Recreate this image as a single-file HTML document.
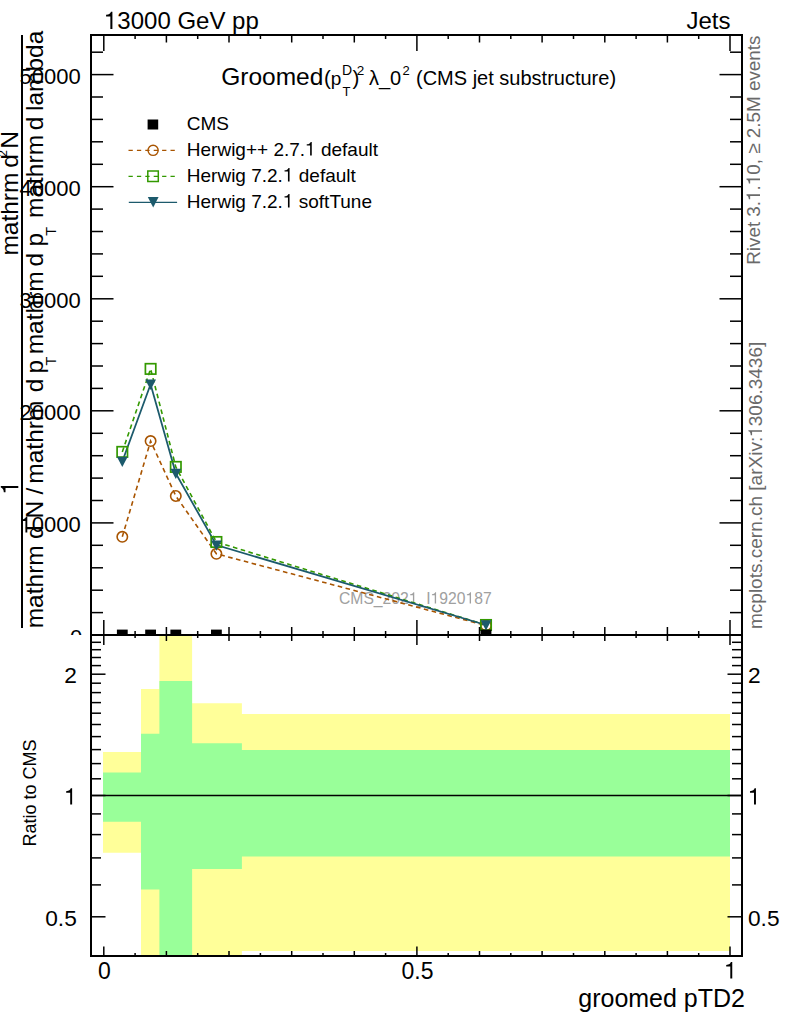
<!DOCTYPE html><html><head><meta charset="utf-8"><style>html,body{margin:0;padding:0;background:#fff;}svg{display:block;}text{font-family:"Liberation Sans",sans-serif;}.one{fill:none;}</style></head><body>
<svg width="786" height="1024" viewBox="0 0 786 1024">
<rect width="786" height="1024" fill="#fff"/>
<path d="M103.0,752.1 L141.0,752.1 L141.0,688.9 L159.4,688.9 L159.4,635.0 L192.1,635.0 L192.1,703.2 L241.9,703.2 L241.9,713.9 L730.0,713.9 L730.0,950.9 L241.9,950.9 L241.9,956.0 L192.1,956.0 L192.1,956.0 L159.4,956.0 L159.4,956.0 L141.0,956.0 L141.0,852.8 L103.0,852.8 Z" fill="#ffff99"/>
<path d="M103.0,772.6 L141.0,772.6 L141.0,733.7 L159.4,733.7 L159.4,680.9 L192.1,680.9 L192.1,743.3 L241.9,743.3 L241.9,750.0 L730.0,750.0 L730.0,856.6 L241.9,856.6 L241.9,869.0 L192.1,869.0 L192.1,956.0 L159.4,956.0 L159.4,889.6 L141.0,889.6 L141.0,821.7 L103.0,821.7 Z" fill="#99ff99"/>
<line x1="91" y1="795.5" x2="742" y2="795.5" stroke="#000" stroke-width="1.3"/>
<text x="339" y="603.5" font-size="15.7" fill="#a0a0a0">CMS_202<tspan class="one">1</tspan>_I<tspan class="one">1</tspan>920<tspan class="one">1</tspan>87</text>
<path d="M350,0 L350,715 L290,715 C275,650 220,595 87,591 L87,522 L265,522 L265,0 Z" fill="#a0a0a0" transform="matrix(0.01570,0.00000,0.00000,-0.01570,408.77,603.50)"/>
<path d="M350,0 L350,715 L290,715 C275,650 220,595 87,591 L87,522 L265,522 L265,0 Z" fill="#a0a0a0" transform="matrix(0.01570,0.00000,0.00000,-0.01570,430.59,603.50)"/>
<path d="M350,0 L350,715 L290,715 C275,650 220,595 87,591 L87,522 L265,522 L265,0 Z" fill="#a0a0a0" transform="matrix(0.01570,0.00000,0.00000,-0.01570,465.52,603.50)"/>
<polyline points="122.3,536.8 150.6,441.1 175.8,496.0 216.4,553.8 486.0,625.5" fill="none" stroke="#a85400" stroke-width="1.6" stroke-dasharray="4.6 3.5"/>
<polyline points="122.3,451.9 150.6,368.9 175.8,466.9 216.4,542.0 486.0,625.0" fill="none" stroke="#339900" stroke-width="1.6" stroke-dasharray="4.6 3.5"/>
<polyline points="122.3,461.5 150.6,384.3 175.8,473.5 216.4,545.1 486.0,625.0" fill="none" stroke="#1c5a6c" stroke-width="1.8"/>
<circle cx="122.3" cy="536.8" r="5.2" fill="none" stroke="#a85400" stroke-width="1.6"/>
<circle cx="150.6" cy="441.1" r="5.2" fill="none" stroke="#a85400" stroke-width="1.6"/>
<circle cx="175.8" cy="496.0" r="5.2" fill="none" stroke="#a85400" stroke-width="1.6"/>
<circle cx="216.4" cy="553.8" r="5.2" fill="none" stroke="#a85400" stroke-width="1.6"/>
<circle cx="486.0" cy="625.5" r="5.2" fill="none" stroke="#a85400" stroke-width="1.6"/>
<rect x="117.1" y="446.7" width="10.4" height="10.4" fill="none" stroke="#339900" stroke-width="1.7"/>
<rect x="145.4" y="363.7" width="10.4" height="10.4" fill="none" stroke="#339900" stroke-width="1.7"/>
<rect x="170.6" y="461.7" width="10.4" height="10.4" fill="none" stroke="#339900" stroke-width="1.7"/>
<rect x="211.2" y="536.8" width="10.4" height="10.4" fill="none" stroke="#339900" stroke-width="1.7"/>
<rect x="480.8" y="619.8" width="10.4" height="10.4" fill="none" stroke="#339900" stroke-width="1.7"/>
<polygon points="116.9,456.8 127.7,456.8 122.3,467.1" fill="#1c5a6c"/>
<polygon points="145.2,379.6 156.0,379.6 150.6,389.9" fill="#1c5a6c"/>
<polygon points="170.4,468.8 181.2,468.8 175.8,479.1" fill="#1c5a6c"/>
<polygon points="211.0,540.4 221.8,540.4 216.4,550.7" fill="#1c5a6c"/>
<polygon points="480.6,620.3 491.4,620.3 486.0,630.6" fill="#1c5a6c"/>
<clipPath id="cm"><rect x="91" y="35" width="651" height="600.0"/></clipPath>
<g clip-path="url(#cm)">
<rect x="116.9" y="629.6" width="10.8" height="10.8" fill="#000"/>
<rect x="145.2" y="629.6" width="10.8" height="10.8" fill="#000"/>
<rect x="170.4" y="629.6" width="10.8" height="10.8" fill="#000"/>
<rect x="211.0" y="629.6" width="10.8" height="10.8" fill="#000"/>
<rect x="480.6" y="629.6" width="10.8" height="10.8" fill="#000"/>
</g>
<rect x="91" y="35" width="651" height="600.0" fill="none" stroke="#000" stroke-width="2"/>
<rect x="91" y="635.0" width="651" height="321.0" fill="none" stroke="#000" stroke-width="2"/>
<line x1="91.0" y1="635.0" x2="113.5" y2="635.0" stroke="#000" stroke-width="1.5"/><line x1="742.0" y1="635.0" x2="719.5" y2="635.0" stroke="#000" stroke-width="1.5"/><line x1="91.0" y1="612.6" x2="103.0" y2="612.6" stroke="#000" stroke-width="1.5"/><line x1="742.0" y1="612.6" x2="730.0" y2="612.6" stroke="#000" stroke-width="1.5"/><line x1="91.0" y1="590.2" x2="103.0" y2="590.2" stroke="#000" stroke-width="1.5"/><line x1="742.0" y1="590.2" x2="730.0" y2="590.2" stroke="#000" stroke-width="1.5"/><line x1="91.0" y1="567.8" x2="103.0" y2="567.8" stroke="#000" stroke-width="1.5"/><line x1="742.0" y1="567.8" x2="730.0" y2="567.8" stroke="#000" stroke-width="1.5"/><line x1="91.0" y1="545.3" x2="103.0" y2="545.3" stroke="#000" stroke-width="1.5"/><line x1="742.0" y1="545.3" x2="730.0" y2="545.3" stroke="#000" stroke-width="1.5"/><line x1="91.0" y1="522.9" x2="113.5" y2="522.9" stroke="#000" stroke-width="1.5"/><line x1="742.0" y1="522.9" x2="719.5" y2="522.9" stroke="#000" stroke-width="1.5"/><line x1="91.0" y1="500.5" x2="103.0" y2="500.5" stroke="#000" stroke-width="1.5"/><line x1="742.0" y1="500.5" x2="730.0" y2="500.5" stroke="#000" stroke-width="1.5"/><line x1="91.0" y1="478.1" x2="103.0" y2="478.1" stroke="#000" stroke-width="1.5"/><line x1="742.0" y1="478.1" x2="730.0" y2="478.1" stroke="#000" stroke-width="1.5"/><line x1="91.0" y1="455.7" x2="103.0" y2="455.7" stroke="#000" stroke-width="1.5"/><line x1="742.0" y1="455.7" x2="730.0" y2="455.7" stroke="#000" stroke-width="1.5"/><line x1="91.0" y1="433.3" x2="103.0" y2="433.3" stroke="#000" stroke-width="1.5"/><line x1="742.0" y1="433.3" x2="730.0" y2="433.3" stroke="#000" stroke-width="1.5"/><line x1="91.0" y1="410.8" x2="113.5" y2="410.8" stroke="#000" stroke-width="1.5"/><line x1="742.0" y1="410.8" x2="719.5" y2="410.8" stroke="#000" stroke-width="1.5"/><line x1="91.0" y1="388.4" x2="103.0" y2="388.4" stroke="#000" stroke-width="1.5"/><line x1="742.0" y1="388.4" x2="730.0" y2="388.4" stroke="#000" stroke-width="1.5"/><line x1="91.0" y1="366.0" x2="103.0" y2="366.0" stroke="#000" stroke-width="1.5"/><line x1="742.0" y1="366.0" x2="730.0" y2="366.0" stroke="#000" stroke-width="1.5"/><line x1="91.0" y1="343.6" x2="103.0" y2="343.6" stroke="#000" stroke-width="1.5"/><line x1="742.0" y1="343.6" x2="730.0" y2="343.6" stroke="#000" stroke-width="1.5"/><line x1="91.0" y1="321.2" x2="103.0" y2="321.2" stroke="#000" stroke-width="1.5"/><line x1="742.0" y1="321.2" x2="730.0" y2="321.2" stroke="#000" stroke-width="1.5"/><line x1="91.0" y1="298.8" x2="113.5" y2="298.8" stroke="#000" stroke-width="1.5"/><line x1="742.0" y1="298.8" x2="719.5" y2="298.8" stroke="#000" stroke-width="1.5"/><line x1="91.0" y1="276.3" x2="103.0" y2="276.3" stroke="#000" stroke-width="1.5"/><line x1="742.0" y1="276.3" x2="730.0" y2="276.3" stroke="#000" stroke-width="1.5"/><line x1="91.0" y1="253.9" x2="103.0" y2="253.9" stroke="#000" stroke-width="1.5"/><line x1="742.0" y1="253.9" x2="730.0" y2="253.9" stroke="#000" stroke-width="1.5"/><line x1="91.0" y1="231.5" x2="103.0" y2="231.5" stroke="#000" stroke-width="1.5"/><line x1="742.0" y1="231.5" x2="730.0" y2="231.5" stroke="#000" stroke-width="1.5"/><line x1="91.0" y1="209.1" x2="103.0" y2="209.1" stroke="#000" stroke-width="1.5"/><line x1="742.0" y1="209.1" x2="730.0" y2="209.1" stroke="#000" stroke-width="1.5"/><line x1="91.0" y1="186.7" x2="113.5" y2="186.7" stroke="#000" stroke-width="1.5"/><line x1="742.0" y1="186.7" x2="719.5" y2="186.7" stroke="#000" stroke-width="1.5"/><line x1="91.0" y1="164.3" x2="103.0" y2="164.3" stroke="#000" stroke-width="1.5"/><line x1="742.0" y1="164.3" x2="730.0" y2="164.3" stroke="#000" stroke-width="1.5"/><line x1="91.0" y1="141.8" x2="103.0" y2="141.8" stroke="#000" stroke-width="1.5"/><line x1="742.0" y1="141.8" x2="730.0" y2="141.8" stroke="#000" stroke-width="1.5"/><line x1="91.0" y1="119.4" x2="103.0" y2="119.4" stroke="#000" stroke-width="1.5"/><line x1="742.0" y1="119.4" x2="730.0" y2="119.4" stroke="#000" stroke-width="1.5"/><line x1="91.0" y1="97.0" x2="103.0" y2="97.0" stroke="#000" stroke-width="1.5"/><line x1="742.0" y1="97.0" x2="730.0" y2="97.0" stroke="#000" stroke-width="1.5"/><line x1="91.0" y1="74.6" x2="113.5" y2="74.6" stroke="#000" stroke-width="1.5"/><line x1="742.0" y1="74.6" x2="719.5" y2="74.6" stroke="#000" stroke-width="1.5"/><line x1="91.0" y1="52.2" x2="103.0" y2="52.2" stroke="#000" stroke-width="1.5"/><line x1="742.0" y1="52.2" x2="730.0" y2="52.2" stroke="#000" stroke-width="1.5"/><line x1="103.8" y1="35.0" x2="103.8" y2="51.0" stroke="#000" stroke-width="1.5"/><line x1="103.8" y1="635.0" x2="103.8" y2="620.0" stroke="#000" stroke-width="1.5"/><line x1="103.8" y1="635.0" x2="103.8" y2="645.0" stroke="#000" stroke-width="1.5"/><line x1="103.8" y1="956.0" x2="103.8" y2="946.5" stroke="#000" stroke-width="1.5"/><line x1="135.1" y1="35.0" x2="135.1" y2="39.0" stroke="#000" stroke-width="1.5"/><line x1="135.1" y1="635.0" x2="135.1" y2="631.0" stroke="#000" stroke-width="1.5"/><line x1="135.1" y1="635.0" x2="135.1" y2="638.0" stroke="#000" stroke-width="1.5"/><line x1="135.1" y1="956.0" x2="135.1" y2="953.0" stroke="#000" stroke-width="1.5"/><line x1="166.4" y1="35.0" x2="166.4" y2="42.5" stroke="#000" stroke-width="1.5"/><line x1="166.4" y1="635.0" x2="166.4" y2="627.0" stroke="#000" stroke-width="1.5"/><line x1="166.4" y1="635.0" x2="166.4" y2="641.0" stroke="#000" stroke-width="1.5"/><line x1="166.4" y1="956.0" x2="166.4" y2="951.0" stroke="#000" stroke-width="1.5"/><line x1="197.7" y1="35.0" x2="197.7" y2="39.0" stroke="#000" stroke-width="1.5"/><line x1="197.7" y1="635.0" x2="197.7" y2="631.0" stroke="#000" stroke-width="1.5"/><line x1="197.7" y1="635.0" x2="197.7" y2="638.0" stroke="#000" stroke-width="1.5"/><line x1="197.7" y1="956.0" x2="197.7" y2="953.0" stroke="#000" stroke-width="1.5"/><line x1="229.0" y1="35.0" x2="229.0" y2="42.5" stroke="#000" stroke-width="1.5"/><line x1="229.0" y1="635.0" x2="229.0" y2="627.0" stroke="#000" stroke-width="1.5"/><line x1="229.0" y1="635.0" x2="229.0" y2="641.0" stroke="#000" stroke-width="1.5"/><line x1="229.0" y1="956.0" x2="229.0" y2="951.0" stroke="#000" stroke-width="1.5"/><line x1="260.4" y1="35.0" x2="260.4" y2="39.0" stroke="#000" stroke-width="1.5"/><line x1="260.4" y1="635.0" x2="260.4" y2="631.0" stroke="#000" stroke-width="1.5"/><line x1="260.4" y1="635.0" x2="260.4" y2="638.0" stroke="#000" stroke-width="1.5"/><line x1="260.4" y1="956.0" x2="260.4" y2="953.0" stroke="#000" stroke-width="1.5"/><line x1="291.7" y1="35.0" x2="291.7" y2="42.5" stroke="#000" stroke-width="1.5"/><line x1="291.7" y1="635.0" x2="291.7" y2="627.0" stroke="#000" stroke-width="1.5"/><line x1="291.7" y1="635.0" x2="291.7" y2="641.0" stroke="#000" stroke-width="1.5"/><line x1="291.7" y1="956.0" x2="291.7" y2="951.0" stroke="#000" stroke-width="1.5"/><line x1="323.0" y1="35.0" x2="323.0" y2="39.0" stroke="#000" stroke-width="1.5"/><line x1="323.0" y1="635.0" x2="323.0" y2="631.0" stroke="#000" stroke-width="1.5"/><line x1="323.0" y1="635.0" x2="323.0" y2="638.0" stroke="#000" stroke-width="1.5"/><line x1="323.0" y1="956.0" x2="323.0" y2="953.0" stroke="#000" stroke-width="1.5"/><line x1="354.3" y1="35.0" x2="354.3" y2="42.5" stroke="#000" stroke-width="1.5"/><line x1="354.3" y1="635.0" x2="354.3" y2="627.0" stroke="#000" stroke-width="1.5"/><line x1="354.3" y1="635.0" x2="354.3" y2="641.0" stroke="#000" stroke-width="1.5"/><line x1="354.3" y1="956.0" x2="354.3" y2="951.0" stroke="#000" stroke-width="1.5"/><line x1="385.6" y1="35.0" x2="385.6" y2="39.0" stroke="#000" stroke-width="1.5"/><line x1="385.6" y1="635.0" x2="385.6" y2="631.0" stroke="#000" stroke-width="1.5"/><line x1="385.6" y1="635.0" x2="385.6" y2="638.0" stroke="#000" stroke-width="1.5"/><line x1="385.6" y1="956.0" x2="385.6" y2="953.0" stroke="#000" stroke-width="1.5"/><line x1="416.9" y1="35.0" x2="416.9" y2="51.0" stroke="#000" stroke-width="1.5"/><line x1="416.9" y1="635.0" x2="416.9" y2="620.0" stroke="#000" stroke-width="1.5"/><line x1="416.9" y1="635.0" x2="416.9" y2="645.0" stroke="#000" stroke-width="1.5"/><line x1="416.9" y1="956.0" x2="416.9" y2="946.5" stroke="#000" stroke-width="1.5"/><line x1="448.2" y1="35.0" x2="448.2" y2="39.0" stroke="#000" stroke-width="1.5"/><line x1="448.2" y1="635.0" x2="448.2" y2="631.0" stroke="#000" stroke-width="1.5"/><line x1="448.2" y1="635.0" x2="448.2" y2="638.0" stroke="#000" stroke-width="1.5"/><line x1="448.2" y1="956.0" x2="448.2" y2="953.0" stroke="#000" stroke-width="1.5"/><line x1="479.5" y1="35.0" x2="479.5" y2="42.5" stroke="#000" stroke-width="1.5"/><line x1="479.5" y1="635.0" x2="479.5" y2="627.0" stroke="#000" stroke-width="1.5"/><line x1="479.5" y1="635.0" x2="479.5" y2="641.0" stroke="#000" stroke-width="1.5"/><line x1="479.5" y1="956.0" x2="479.5" y2="951.0" stroke="#000" stroke-width="1.5"/><line x1="510.8" y1="35.0" x2="510.8" y2="39.0" stroke="#000" stroke-width="1.5"/><line x1="510.8" y1="635.0" x2="510.8" y2="631.0" stroke="#000" stroke-width="1.5"/><line x1="510.8" y1="635.0" x2="510.8" y2="638.0" stroke="#000" stroke-width="1.5"/><line x1="510.8" y1="956.0" x2="510.8" y2="953.0" stroke="#000" stroke-width="1.5"/><line x1="542.1" y1="35.0" x2="542.1" y2="42.5" stroke="#000" stroke-width="1.5"/><line x1="542.1" y1="635.0" x2="542.1" y2="627.0" stroke="#000" stroke-width="1.5"/><line x1="542.1" y1="635.0" x2="542.1" y2="641.0" stroke="#000" stroke-width="1.5"/><line x1="542.1" y1="956.0" x2="542.1" y2="951.0" stroke="#000" stroke-width="1.5"/><line x1="573.5" y1="35.0" x2="573.5" y2="39.0" stroke="#000" stroke-width="1.5"/><line x1="573.5" y1="635.0" x2="573.5" y2="631.0" stroke="#000" stroke-width="1.5"/><line x1="573.5" y1="635.0" x2="573.5" y2="638.0" stroke="#000" stroke-width="1.5"/><line x1="573.5" y1="956.0" x2="573.5" y2="953.0" stroke="#000" stroke-width="1.5"/><line x1="604.8" y1="35.0" x2="604.8" y2="42.5" stroke="#000" stroke-width="1.5"/><line x1="604.8" y1="635.0" x2="604.8" y2="627.0" stroke="#000" stroke-width="1.5"/><line x1="604.8" y1="635.0" x2="604.8" y2="641.0" stroke="#000" stroke-width="1.5"/><line x1="604.8" y1="956.0" x2="604.8" y2="951.0" stroke="#000" stroke-width="1.5"/><line x1="636.1" y1="35.0" x2="636.1" y2="39.0" stroke="#000" stroke-width="1.5"/><line x1="636.1" y1="635.0" x2="636.1" y2="631.0" stroke="#000" stroke-width="1.5"/><line x1="636.1" y1="635.0" x2="636.1" y2="638.0" stroke="#000" stroke-width="1.5"/><line x1="636.1" y1="956.0" x2="636.1" y2="953.0" stroke="#000" stroke-width="1.5"/><line x1="667.4" y1="35.0" x2="667.4" y2="42.5" stroke="#000" stroke-width="1.5"/><line x1="667.4" y1="635.0" x2="667.4" y2="627.0" stroke="#000" stroke-width="1.5"/><line x1="667.4" y1="635.0" x2="667.4" y2="641.0" stroke="#000" stroke-width="1.5"/><line x1="667.4" y1="956.0" x2="667.4" y2="951.0" stroke="#000" stroke-width="1.5"/><line x1="698.7" y1="35.0" x2="698.7" y2="39.0" stroke="#000" stroke-width="1.5"/><line x1="698.7" y1="635.0" x2="698.7" y2="631.0" stroke="#000" stroke-width="1.5"/><line x1="698.7" y1="635.0" x2="698.7" y2="638.0" stroke="#000" stroke-width="1.5"/><line x1="698.7" y1="956.0" x2="698.7" y2="953.0" stroke="#000" stroke-width="1.5"/><line x1="730.0" y1="35.0" x2="730.0" y2="51.0" stroke="#000" stroke-width="1.5"/><line x1="730.0" y1="635.0" x2="730.0" y2="620.0" stroke="#000" stroke-width="1.5"/><line x1="730.0" y1="635.0" x2="730.0" y2="645.0" stroke="#000" stroke-width="1.5"/><line x1="730.0" y1="956.0" x2="730.0" y2="946.5" stroke="#000" stroke-width="1.5"/><line x1="91.0" y1="955.9" x2="101.0" y2="955.9" stroke="#000" stroke-width="1.5"/><line x1="742.0" y1="955.9" x2="732.0" y2="955.9" stroke="#000" stroke-width="1.5"/><line x1="91.0" y1="916.8" x2="105.5" y2="916.8" stroke="#000" stroke-width="1.5"/><line x1="742.0" y1="916.8" x2="727.5" y2="916.8" stroke="#000" stroke-width="1.5"/><line x1="91.0" y1="884.9" x2="101.0" y2="884.9" stroke="#000" stroke-width="1.5"/><line x1="742.0" y1="884.9" x2="732.0" y2="884.9" stroke="#000" stroke-width="1.5"/><line x1="91.0" y1="857.9" x2="101.0" y2="857.9" stroke="#000" stroke-width="1.5"/><line x1="742.0" y1="857.9" x2="732.0" y2="857.9" stroke="#000" stroke-width="1.5"/><line x1="91.0" y1="834.6" x2="101.0" y2="834.6" stroke="#000" stroke-width="1.5"/><line x1="742.0" y1="834.6" x2="732.0" y2="834.6" stroke="#000" stroke-width="1.5"/><line x1="91.0" y1="813.9" x2="101.0" y2="813.9" stroke="#000" stroke-width="1.5"/><line x1="742.0" y1="813.9" x2="732.0" y2="813.9" stroke="#000" stroke-width="1.5"/><line x1="91.0" y1="795.5" x2="105.5" y2="795.5" stroke="#000" stroke-width="1.5"/><line x1="742.0" y1="795.5" x2="727.5" y2="795.5" stroke="#000" stroke-width="1.5"/><line x1="91.0" y1="778.8" x2="101.0" y2="778.8" stroke="#000" stroke-width="1.5"/><line x1="742.0" y1="778.8" x2="732.0" y2="778.8" stroke="#000" stroke-width="1.5"/><line x1="91.0" y1="763.6" x2="101.0" y2="763.6" stroke="#000" stroke-width="1.5"/><line x1="742.0" y1="763.6" x2="732.0" y2="763.6" stroke="#000" stroke-width="1.5"/><line x1="91.0" y1="749.6" x2="101.0" y2="749.6" stroke="#000" stroke-width="1.5"/><line x1="742.0" y1="749.6" x2="732.0" y2="749.6" stroke="#000" stroke-width="1.5"/><line x1="91.0" y1="736.6" x2="101.0" y2="736.6" stroke="#000" stroke-width="1.5"/><line x1="742.0" y1="736.6" x2="732.0" y2="736.6" stroke="#000" stroke-width="1.5"/><line x1="91.0" y1="724.5" x2="101.0" y2="724.5" stroke="#000" stroke-width="1.5"/><line x1="742.0" y1="724.5" x2="732.0" y2="724.5" stroke="#000" stroke-width="1.5"/><line x1="91.0" y1="713.2" x2="101.0" y2="713.2" stroke="#000" stroke-width="1.5"/><line x1="742.0" y1="713.2" x2="732.0" y2="713.2" stroke="#000" stroke-width="1.5"/><line x1="91.0" y1="702.6" x2="101.0" y2="702.6" stroke="#000" stroke-width="1.5"/><line x1="742.0" y1="702.6" x2="732.0" y2="702.6" stroke="#000" stroke-width="1.5"/><line x1="91.0" y1="692.6" x2="101.0" y2="692.6" stroke="#000" stroke-width="1.5"/><line x1="742.0" y1="692.6" x2="732.0" y2="692.6" stroke="#000" stroke-width="1.5"/><line x1="91.0" y1="683.2" x2="101.0" y2="683.2" stroke="#000" stroke-width="1.5"/><line x1="742.0" y1="683.2" x2="732.0" y2="683.2" stroke="#000" stroke-width="1.5"/><line x1="91.0" y1="674.2" x2="105.5" y2="674.2" stroke="#000" stroke-width="1.5"/><line x1="742.0" y1="674.2" x2="727.5" y2="674.2" stroke="#000" stroke-width="1.5"/><line x1="91.0" y1="665.6" x2="101.0" y2="665.6" stroke="#000" stroke-width="1.5"/><line x1="742.0" y1="665.6" x2="732.0" y2="665.6" stroke="#000" stroke-width="1.5"/><line x1="91.0" y1="657.5" x2="101.0" y2="657.5" stroke="#000" stroke-width="1.5"/><line x1="742.0" y1="657.5" x2="732.0" y2="657.5" stroke="#000" stroke-width="1.5"/><line x1="91.0" y1="649.7" x2="101.0" y2="649.7" stroke="#000" stroke-width="1.5"/><line x1="742.0" y1="649.7" x2="732.0" y2="649.7" stroke="#000" stroke-width="1.5"/><line x1="91.0" y1="642.3" x2="101.0" y2="642.3" stroke="#000" stroke-width="1.5"/><line x1="742.0" y1="642.3" x2="732.0" y2="642.3" stroke="#000" stroke-width="1.5"/><line x1="91.0" y1="635.1" x2="101.0" y2="635.1" stroke="#000" stroke-width="1.5"/><line x1="742.0" y1="635.1" x2="732.0" y2="635.1" stroke="#000" stroke-width="1.5"/>
<clipPath id="lab"><rect x="0" y="0" width="786" height="635.0"/></clipPath>
<g clip-path="url(#lab)">
<text x="82.3" y="644.5" font-size="22" text-anchor="end" fill="#000" >0</text>
<text x="80.8" y="532.4" font-size="22" text-anchor="end" fill="#000" ><tspan class="one">1</tspan>0000</text>
<path d="M350,0 L350,715 L290,715 C275,650 220,595 87,591 L87,522 L265,522 L265,0 Z" fill="#000" transform="matrix(0.02200,0.00000,0.00000,-0.02200,19.60,532.40)"/>
<text x="80.8" y="420.3" font-size="22" text-anchor="end" fill="#000" >20000</text>
<text x="80.8" y="308.3" font-size="22" text-anchor="end" fill="#000" >30000</text>
<text x="80.8" y="196.2" font-size="22" text-anchor="end" fill="#000" >40000</text>
<text x="80.8" y="84.1" font-size="22" text-anchor="end" fill="#000" >50000</text>
</g>
<text x="76.8" y="683.3" font-size="22.7" text-anchor="end" fill="#000" >2</text>
<text x="748" y="683.3" font-size="22.7" text-anchor="start" fill="#000" >2</text>
<text x="76.8" y="804.6" font-size="22.7" text-anchor="end" fill="#000" ><tspan class="one">1</tspan></text>
<path d="M350,0 L350,715 L290,715 C275,650 220,595 87,591 L87,522 L265,522 L265,0 Z" fill="#000" transform="matrix(0.02270,0.00000,0.00000,-0.02270,64.18,804.60)"/>
<text x="748" y="804.6" font-size="22.7" text-anchor="start" fill="#000" ><tspan class="one">1</tspan></text>
<path d="M350,0 L350,715 L290,715 C275,650 220,595 87,591 L87,522 L265,522 L265,0 Z" fill="#000" transform="matrix(0.02270,0.00000,0.00000,-0.02270,748.00,804.60)"/>
<text x="76.8" y="925.9" font-size="22.7" text-anchor="end" fill="#000" >0.5</text>
<text x="748" y="925.9" font-size="22.7" text-anchor="start" fill="#000" >0.5</text>
<text x="104.4" y="978.5" font-size="23" text-anchor="middle" fill="#000" >0</text>
<text x="417.5" y="978.5" font-size="23" text-anchor="middle" fill="#000" >0.5</text>
<text x="730.6" y="978.5" font-size="23" text-anchor="middle" fill="#000" ><tspan class="one">1</tspan></text>
<path d="M350,0 L350,715 L290,715 C275,650 220,595 87,591 L87,522 L265,522 L265,0 Z" fill="#000" transform="matrix(0.02300,0.00000,0.00000,-0.02300,724.20,978.50)"/>
<text x="104" y="29" font-size="24" text-anchor="start" fill="#000" ><tspan class="one">1</tspan>3000 GeV pp</text>
<path d="M350,0 L350,715 L290,715 C275,650 220,595 87,591 L87,522 L265,522 L265,0 Z" fill="#000" transform="matrix(0.02400,0.00000,0.00000,-0.02400,104.00,29.00)"/>
<text x="730.5" y="29" font-size="24" text-anchor="end" fill="#000" >Jets</text>
<text x="745" y="1006.8" font-size="25" text-anchor="end" fill="#000" >groomed pTD2</text>
<text x="0" y="0" font-size="18" text-anchor="middle" fill="#000" transform="translate(36,793) rotate(-90)">Ratio to CMS</text>
<text x="0" y="0" font-size="18.85" text-anchor="start" fill="#6a6a6a" transform="translate(760,264.8) rotate(-90)">Rivet 3.<tspan class="one">1</tspan>.<tspan class="one">1</tspan>0, ≥ 2.5M events</text>
<path d="M350,0 L350,715 L290,715 C275,650 220,595 87,591 L87,522 L265,522 L265,0 Z" fill="#6a6a6a" transform="matrix(0.00000,-0.01885,-0.01885,0.00000,760.00,200.91)"/>
<path d="M350,0 L350,715 L290,715 C275,650 220,595 87,591 L87,522 L265,522 L265,0 Z" fill="#6a6a6a" transform="matrix(0.00000,-0.01885,-0.01885,0.00000,760.00,185.17)"/>
<text x="0" y="0" font-size="19" text-anchor="start" fill="#6a6a6a" transform="translate(762,629) rotate(-90)">mcplots.cern.ch [arXiv:<tspan class="one">1</tspan>306.3436]</text>
<path d="M350,0 L350,715 L290,715 C275,650 220,595 87,591 L87,522 L265,522 L265,0 Z" fill="#6a6a6a" transform="matrix(0.00000,-0.01900,-0.01900,0.00000,762.00,436.83)"/>
<text x="221.2" y="85.2" font-size="24.5">Groomed</text>
<text x="323.9" y="85" font-size="20.5">(</text>
<text x="330.8" y="85" font-size="19">p</text>
<text x="342" y="74.5" font-size="14">D</text>
<text x="342.6" y="95.5" font-size="13">T</text>
<text x="352.5" y="85" font-size="20.5">)</text>
<text x="356.8" y="74.7" font-size="13.5">2</text>
<text x="369" y="84.7" font-size="20">λ_0</text>
<text x="402.5" y="74.5" font-size="13">2</text>
<text x="416" y="84.7" font-size="20">(CMS jet substructure)</text>
<rect x="147.6" y="119.5" width="10.6" height="10" fill="#000"/>
<line x1="128.5" y1="150.3" x2="175" y2="150.3" stroke="#a85400" stroke-width="1.3" stroke-dasharray="4.3 4.1"/>
<circle cx="153.1" cy="150.3" r="5.1" fill="none" stroke="#a85400" stroke-width="1.4"/>
<line x1="128.5" y1="176.3" x2="175" y2="176.3" stroke="#339900" stroke-width="1.3" stroke-dasharray="4.3 4.1"/>
<rect x="147.8" y="171.0" width="10.5" height="10.5" fill="none" stroke="#339900" stroke-width="1.5"/>
<line x1="128.8" y1="202.3" x2="177.1" y2="202.3" stroke="#1c5a6c" stroke-width="1.3"/>
<polygon points="147.8,197.1 158.6,197.1 153.2,207.4" fill="#1c5a6c"/>
<text x="186.8" y="129.7" font-size="19" text-anchor="start" fill="#000" >CMS</text>
<text x="186.8" y="155.5" font-size="19" text-anchor="start" fill="#000" >Herwig++ 2.7.<tspan class="one">1</tspan> default</text>
<path d="M350,0 L350,715 L290,715 C275,650 220,595 87,591 L87,522 L265,522 L265,0 Z" fill="#000" transform="matrix(0.01900,0.00000,0.00000,-0.01900,305.10,155.50)"/>
<text x="186.8" y="181.5" font-size="19" text-anchor="start" fill="#000" >Herwig 7.2.<tspan class="one">1</tspan> default</text>
<path d="M350,0 L350,715 L290,715 C275,650 220,595 87,591 L87,522 L265,522 L265,0 Z" fill="#000" transform="matrix(0.01900,0.00000,0.00000,-0.01900,282.91,181.50)"/>
<text x="186.8" y="207.5" font-size="19" text-anchor="start" fill="#000" >Herwig 7.2.<tspan class="one">1</tspan> softTune</text>
<path d="M350,0 L350,715 L290,715 C275,650 220,595 87,591 L87,522 L265,522 L265,0 Z" fill="#000" transform="matrix(0.01900,0.00000,0.00000,-0.01900,282.91,207.50)"/>
<line x1="22" y1="35" x2="22" y2="628" stroke="#000" stroke-width="2"/>
<text transform="translate(42.5,0) rotate(-90)" font-size="24.5"><tspan x="-628.3" dy="0" font-size="24.5">mathrm</tspan><tspan x="-539.0" dy="0" font-size="24.5">d</tspan><tspan x="-518.5" dy="0" font-size="24.5">N</tspan><tspan x="-494.6" dy="0" font-size="24.5">/</tspan><tspan x="-483.7" dy="0" font-size="24.5">mathrm</tspan><tspan x="-392.3" dy="0" font-size="24.5">d</tspan><tspan x="-373.4" dy="0" font-size="24.5">p</tspan><tspan x="-365.5" dy="13.2" font-size="14.5">T</tspan></text>
<text transform="translate(42.5,0) rotate(-90)" font-size="24.5"><tspan x="-354.3" dy="0" font-size="24.5">mathrm</tspan><tspan x="-266.5" dy="0" font-size="24.5">d</tspan><tspan x="-246.4" dy="0" font-size="24.5">p</tspan><tspan x="-235.8" dy="13.2" font-size="14.5">T</tspan><tspan x="-218.0" dy="-13.2" font-size="24.5">mathrm</tspan><tspan x="-130.3" dy="0" font-size="24.5">d</tspan><tspan x="-111.0" dy="0" font-size="24.5">lambda</tspan></text>
<text transform="translate(18.3,0) rotate(-90)" font-size="24.5"><tspan x="-494.5" dy="0" font-size="24.5"><tspan class="one">1</tspan></tspan></text>
<path d="M350,0 L350,715 L290,715 C275,650 220,595 87,591 L87,522 L265,522 L265,0 Z" fill="#000" transform="matrix(0.00000,-0.02450,-0.02450,0.00000,18.30,494.50)"/>
<text transform="translate(18.0,0) rotate(-90)" font-size="24.5"><tspan x="-255.6" dy="0" font-size="24.5">mathrm</tspan><tspan x="-167.8" dy="0" font-size="24.5">d</tspan><tspan x="-156.7" dy="-11.4" font-size="12">2</tspan><tspan x="-148.8" dy="11.4" font-size="24.5">N</tspan></text>
</svg></body></html>
